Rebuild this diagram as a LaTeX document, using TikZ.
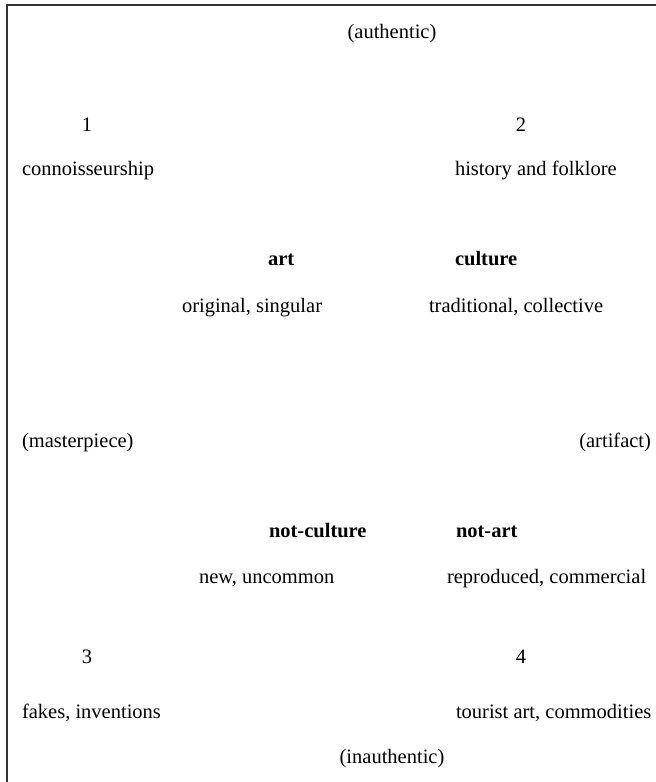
\documentclass[tikz,border=0pt]{standalone}
\usepackage{fontspec}
\setmainfont{Liberation Serif}
\begin{document}
\begin{tikzpicture}[x=1pt,y=1pt,
  lbl/.style={inner sep=0pt,outer sep=0pt,font=\fontsize{20.5}{24}\selectfont},
  lw/.style={lbl,anchor=base west},
  lc/.style={lbl,anchor=base},
  le/.style={lbl,anchor=base east},
  hd/.style={lw,font=\fontsize{20.5}{24}\selectfont\bfseries},
  frame/.style={line width=1.5pt,draw=black!80}]
\useasboundingbox (0,0) rectangle (656,-782);
\coordinate (tl) at (7,-5);
\coordinate (tr) at (656,-5);
\coordinate (bl) at (7,-782);
\draw[frame] (tr) -- (tl) -- (bl);
\node[lc] (authentic) at (392,-38) {(authentic)};
\node[lc] (n1) at (87,-131) {1};
\node[lc] (n2) at (521,-131) {2};
\node[lw] (conn) at (22,-175) {connoisseurship};
\node[lw] (hist) at (455,-175) {history and folklore};
\node[hd] (art) at (268,-265) {art};
\node[hd] (culture) at (455,-265) {culture};
\node[lw] (orig) at (182,-312) {original, singular};
\node[lw] (trad) at (429,-312) {traditional, collective};
\node[lw] (master) at (22,-447) {(masterpiece)};
\node[le] (artifact) at (651,-447) {(artifact)};
\node[hd] (notcult) at (269,-537) {not-culture};
\node[hd] (notart) at (456,-537) {not-art};
\node[lw] (new) at (199,-583) {new, uncommon};
\node[lw] (repro) at (447,-583) {reproduced, commercial};
\node[lc] (n3) at (87,-663) {3};
\node[lc] (n4) at (521,-663) {4};
\node[lw] (fakes) at (22,-718) {fakes, inventions};
\node[lw] (tourist) at (456,-718) {tourist art, commodities};
\node[lc] (inauth) at (392,-763) {(inauthentic)};
\end{tikzpicture}
\end{document}
